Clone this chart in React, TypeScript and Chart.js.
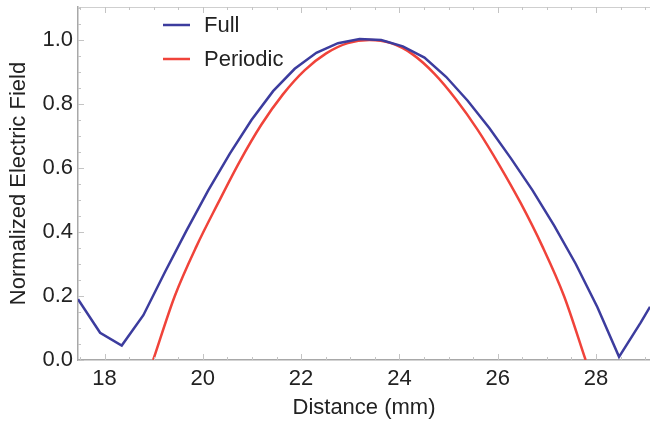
import React, { useEffect, useRef } from 'react';
import { Chart, registerables } from 'chart.js';

Chart.register(...registerables);

// ---- Data ----
const fullX = [17.46, 17.91, 18.35, 18.79, 19.23, 19.67, 20.11, 20.55, 20.99, 21.43, 21.87, 22.31, 22.75, 23.19, 23.63, 24.07, 24.51, 24.95, 25.39, 25.83, 26.27, 26.71, 27.15, 27.59, 28.03, 28.47, 28.91, 29.1];
const fullY = [0.19, 0.085, 0.045, 0.14, 0.275, 0.405, 0.53, 0.645, 0.75, 0.84, 0.91, 0.96, 0.99, 1.003, 1.0, 0.98, 0.945, 0.885, 0.81, 0.725, 0.63, 0.53, 0.42, 0.30, 0.165, 0.01, 0.117, 0.166];

const periodicX = [18.99, 19.43, 19.87, 20.31, 20.75, 21.19, 21.63, 22.07, 22.51, 22.95, 23.39, 23.83, 24.27, 24.71, 25.15, 25.59, 26.03, 26.47, 26.91, 27.35, 27.79];
const periodicY = [0.0, 0.2, 0.355, 0.49, 0.62, 0.735, 0.83, 0.905, 0.958, 0.99, 1.0, 0.99, 0.955, 0.895, 0.815, 0.72, 0.61, 0.49, 0.355, 0.2, 0.0];

const seriesNames = ['Full', 'Periodic'];
const xTicks = [18, 20, 22, 24, 26, 28];
const yTicks = [0, 0.2, 0.4, 0.6, 0.8, 1.0];
const xTitle = 'Distance (mm)';
const yTitle = 'Normalized Electric Field';

const FONT = '"Liberation Sans", Arial, Helvetica, sans-serif';
const TEXT = '#222222';
const BLUE = '#3c3c9e';
const RED = '#f0433a';

const framePlugin = {
  id: 'frame',
  afterDraw(chart: any) {
    const { ctx, chartArea: a, scales } = chart;
    const xs = scales.x;
    const ys = scales.y;
    ctx.save();
    ctx.strokeStyle = '#cfcfcf';
    ctx.lineWidth = 1;
    ctx.beginPath();
    ctx.moveTo(a.left, a.top + 0.5);
    ctx.lineTo(a.right, a.top + 0.5);
    ctx.stroke();
    ctx.strokeStyle = '#c4c4c4';
    for (let v = 17.5; v <= 29.1; v += 0.5) {
      const px = Math.round(xs.getPixelForValue(v)) + 0.5;
      const major = xTicks.includes(Math.round(v * 10) / 10);
      const len = major ? 6 : 3;
      ctx.beginPath();
      ctx.moveTo(px, a.bottom);
      ctx.lineTo(px, a.bottom - len);
      ctx.moveTo(px, a.top);
      ctx.lineTo(px, a.top + len);
      ctx.stroke();
    }
    for (let i = 0; i <= 22; i++) {
      const v = i * 0.05;
      const py = Math.round(ys.getPixelForValue(v)) + 0.5;
      const major = i % 4 === 0;
      const len = major ? 6 : 3;
      ctx.beginPath();
      ctx.moveTo(a.left, py);
      ctx.lineTo(a.left + len, py);
      ctx.stroke();
    }
    ctx.restore();
  },
};

const legendPlugin = {
  id: 'innerLegend',
  afterDraw(chart: any) {
    const { ctx, chartArea: a } = chart;
    ctx.save();
    chart.data.datasets.forEach((d: any, i: number) => {
      const yy = a.top + 18 + i * 34;
      ctx.strokeStyle = d.borderColor;
      ctx.lineWidth = 2.5;
      ctx.beginPath();
      ctx.moveTo(a.left + 85, yy);
      ctx.lineTo(a.left + 112, yy);
      ctx.stroke();
      ctx.fillStyle = TEXT;
      ctx.font = `22px ${FONT}`;
      ctx.textBaseline = 'middle';
      ctx.textAlign = 'left';
      ctx.fillText(d.label, a.left + 126, yy + 1);
    });
    ctx.restore();
  },
};

export default function App() {
  const ref = useRef<HTMLCanvasElement | null>(null);

  useEffect(() => {
    if (!ref.current) return;
    const chart = new Chart(ref.current, {
      type: 'line',
      data: {
        datasets: [
          {
            label: seriesNames[0],
            data: fullX.map((x, i) => ({ x, y: fullY[i] })),
            borderColor: BLUE,
            backgroundColor: BLUE,
            borderWidth: 2.5,
            pointRadius: 0,
            tension: 0,
          },
          {
            label: seriesNames[1],
            data: periodicX.map((x, i) => ({ x, y: periodicY[i] })),
            borderColor: RED,
            backgroundColor: RED,
            borderWidth: 2.5,
            pointRadius: 0,
            cubicInterpolationMode: 'monotone',
          },
        ],
      },
      options: {
        responsive: false,
        animation: false,
        layout: { padding: { top: 7, left: 0, right: 0, bottom: 0 } },
        plugins: {
          legend: { display: false },
          tooltip: { enabled: false },
        },
        scales: {
          x: {
            type: 'linear',
            min: 17.46,
            max: 29.1,
            afterBuildTicks: (s: any) => {
              s.ticks = xTicks.map((v) => ({ value: v }));
            },
            afterFit: (s: any) => {
              s.height = 61;
              s.paddingLeft = 0;
              s.paddingRight = 0;
            },
            grid: { display: false, drawTicks: false },
            border: { display: true, color: '#a8a8a8', width: 1.5 },
            ticks: {
              color: TEXT,
              font: { family: FONT, size: 22 },
              padding: 6,
              maxRotation: 0,
              autoSkip: false,
              callback: (v: any) => String(v),
            },
            title: {
              display: true,
              text: xTitle,
              color: TEXT,
              font: { family: FONT, size: 22 },
              padding: { top: 0, bottom: 0 },
            },
          },
          y: {
            type: 'linear',
            min: 0,
            max: 1.103,
            afterBuildTicks: (s: any) => {
              s.ticks = yTicks.map((v) => ({ value: v }));
            },
            afterFit: (s: any) => {
              s.width = 78;
              s.paddingTop = 0;
              s.paddingBottom = 0;
            },
            grid: { display: false, drawTicks: false },
            border: { display: true, color: '#a8a8a8', width: 1.5 },
            ticks: {
              color: TEXT,
              font: { family: FONT, size: 22 },
              padding: 5,
              autoSkip: false,
              callback: (v: any) => Number(v).toFixed(1),
            },
            title: {
              display: true,
              text: yTitle,
              color: TEXT,
              font: { family: FONT, size: 22 },
              padding: { top: 6, bottom: 0 },
            },
          },
        },
      } as any,
      plugins: [framePlugin, legendPlugin],
    });
    return () => chart.destroy();
  }, []);

  return (
    <div style={{ position: 'fixed', left: 0, top: 0, width: 650, height: 421, background: '#fff' }}>
      <canvas ref={ref} width={650} height={421} style={{ display: 'block', width: 650, height: 421 }} />
    </div>
  );
}
